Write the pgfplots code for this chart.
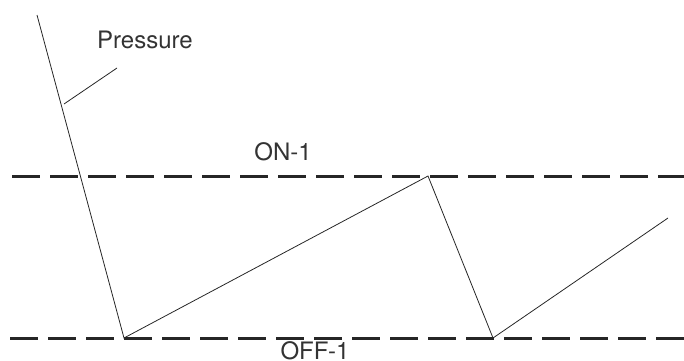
\documentclass[border=0pt]{standalone}
\usepackage{pgfplots}
\pgfplotsset{compat=1.18}
\usepackage{fontspec}
\setmainfont{TeX Gyre Heros}

\begin{document}
\begin{tikzpicture}
\useasboundingbox (0,0) rectangle (684pt,360pt);
\clip (0,0) rectangle (684pt,360pt);
\begin{axis}[
  scale only axis,
  width=684pt, height=360pt,
  xmin=0, xmax=684, ymin=0, ymax=360,
  hide axis,
  clip=false,
]
% switching levels (y measured up from the bottom)
\addplot[black!85, line width=3pt, dash pattern=on 28pt off 10pt]
  coordinates {(12,184) (684,184)};
\addplot[black!85, line width=3pt, dash pattern=on 28pt off 10pt]
  coordinates {(10,22) (684,22)};
% pressure trace
\addplot[black!85, line width=0.8pt]
  coordinates {(37,345) (124,22) (428,184) (493,22) (668,142)};
% leader for the label
\addplot[black!85, line width=0.8pt]
  coordinates {(64,256) (117,292)};
\node[text=black!80, font=\fontsize{24}{28}\selectfont] at (axis cs:145,320) {Pressure};
\node[text=black!80, font=\fontsize{24}{28}\selectfont] at (axis cs:283,208) {ON-1};
\node[text=black!80, font=\fontsize{24}{28}\selectfont] at (axis cs:315,9) {OFF-1};
\end{axis}
\end{tikzpicture}
\end{document}
